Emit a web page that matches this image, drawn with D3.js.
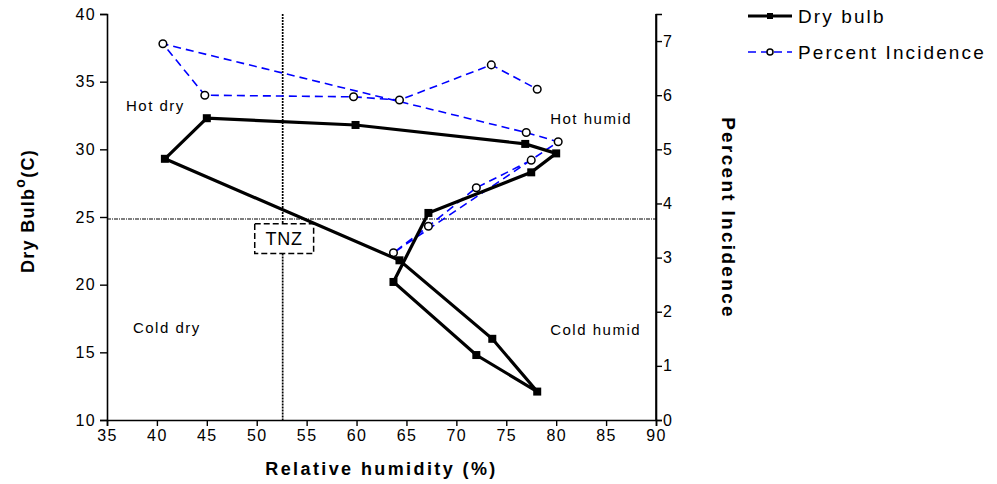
<!DOCTYPE html>
<html>
<head>
<meta charset="utf-8">
<script src="https://cdn.jsdelivr.net/npm/d3@7/dist/d3.min.js"></script>
<style>
    body{ margin:0; background:#fff; }
    #chart{ width:997px; height:484px; }
    text{ font-family:"Liberation Sans", Arial, sans-serif; fill:#000; }
</style>
</head>
<body>
<div id="chart"></div>
<script>
// dry bulb loop, in drawing order (RH %, temperature C)
var dryRH   = [40.8, 45.0, 59.9, 76.9, 80.0, 77.5, 67.2, 63.7, 72.0, 78.1, 73.6, 64.3, 40.8];
var dryTemp = [29.3, 32.3, 31.8, 30.4, 29.7, 28.3, 25.3, 20.2, 14.8, 12.1, 16.0, 21.8, 29.3];

// percent incidence, in drawing order (RH %, percent)
var incRH  = [77.5, 72.0, 67.2, 63.7, 80.2, 77.0, 40.6, 44.8, 59.7, 64.3, 73.5, 78.1];
var incPct = [4.80, 4.29, 3.58, 3.09, 5.14, 5.31, 6.95, 6.00, 5.97, 5.91, 6.56, 6.11];

var xTicks = [35, 40, 45, 50, 55, 60, 65, 70, 75, 80, 85, 90];
var yTicks = [10, 15, 20, 25, 30, 35, 40];
var y2Ticks = [0, 1, 2, 3, 4, 5, 6, 7];

var tnzRH = 52.6, tnzTemp = 24.85;
var tnzBoxRH = [49.8, 55.7], tnzBoxTemp = [22.3, 24.5];

var regionNames = ["Hot dry", "Hot humid", "Cold dry", "Cold humid"];
var regionRH    = [36.9, 79.4, 37.6, 79.4];
var regionTemp  = [32.8, 31.9, 16.4, 16.3];

var legendNames = ["Dry bulb", "Percent Incidence"];

var W = 997, H = 484,
    plotL = 107, plotT = 14, plotR = 656, plotB = 420;

var svg = d3.select("#chart").append("svg")
    .attr("width", W)
    .attr("height", H);

var x = d3.scaleLinear().domain([35, 90]).range([plotL, plotR]),
    y = d3.scaleLinear().domain([10, 40]).range([plotB, plotT]),
    y2 = d3.scaleLinear().domain([0, 7.5]).range([plotB, plotT]);

//axes
function styleAxis(g){
    g.attr("font-size", null).attr("font-family", null);
    g.selectAll("path.domain").attr("stroke", "#000").attr("stroke-width", 1.6);
    g.selectAll(".tick line").attr("stroke", "#000").attr("stroke-width", 1.4);
    g.selectAll(".tick text").style("font-size", "16px").style("letter-spacing", "1.4px");
}

svg.append("g")
    .attr("transform", "translate(0," + plotB + ")")
    .call(d3.axisBottom(x).tickValues(xTicks).tickSizeOuter(0).tickSize(6).tickPadding(4))
    .call(styleAxis);

svg.append("g")
    .attr("transform", "translate(" + plotL + ",0)")
    .call(d3.axisLeft(y).tickValues(yTicks).tickSizeOuter(0).tickSize(7).tickPadding(4))
    .call(styleAxis);

svg.append("g")
    .attr("transform", "translate(" + plotR + ",0)")
    .call(d3.axisRight(y2).tickValues(y2Ticks).tickSizeOuter(0).tickSize(6).tickPadding(1))
    .call(styleAxis);

// the right axis keeps going up to the top of the frame
svg.append("line")
    .attr("x1", plotR).attr("x2", plotR)
    .attr("y1", plotT).attr("y2", plotB)
    .attr("stroke", "#000").attr("stroke-width", 1.6);

// axis titles
svg.append("text")
    .attr("x", (plotL + plotR) / 2)
    .attr("y", 475)
    .attr("text-anchor", "middle")
    .style("font-size", "18px").style("font-weight", "bold").style("letter-spacing", "2.4px")
    .text("Relative humidity (%)");

var yt = svg.append("text")
    .attr("transform", "translate(34,211) rotate(-90)")
    .attr("text-anchor", "middle")
    .style("font-size", "18px").style("font-weight", "bold").style("letter-spacing", "1.3px");
yt.append("tspan").text("Dry Bulb");
yt.append("tspan").attr("dy", -9).style("font-size", "14px").text("o");
yt.append("tspan").attr("dy", 9).text("(C)");

svg.append("text")
    .attr("transform", "translate(722,218) rotate(90)")
    .attr("text-anchor", "middle")
    .style("font-size", "19px").style("font-weight", "bold").style("letter-spacing", "2.3px")
    .text("Percent Incidence");

// thermoneutral zone guides
svg.append("line")
    .attr("x1", plotL).attr("x2", plotR)
    .attr("y1", y(tnzTemp)).attr("y2", y(tnzTemp))
    .attr("stroke", "#000").attr("stroke-width", 1.1)
    .attr("stroke-dasharray", "4,1,1,1");

svg.append("line")
    .attr("x1", x(tnzRH)).attr("x2", x(tnzRH))
    .attr("y1", plotT).attr("y2", y(tnzBoxTemp[1]))
    .attr("stroke", "#000").attr("stroke-width", 1.7)
    .attr("stroke-dasharray", "2,1");

svg.append("line")
    .attr("x1", x(tnzRH)).attr("x2", x(tnzRH))
    .attr("y1", y(tnzBoxTemp[0])).attr("y2", plotB)
    .attr("stroke", "#000").attr("stroke-width", 1.7)
    .attr("stroke-dasharray", "2,1");

svg.append("rect")
    .attr("x", x(tnzBoxRH[0]))
    .attr("y", y(tnzBoxTemp[1]))
    .attr("width", x(tnzBoxRH[1]) - x(tnzBoxRH[0]))
    .attr("height", y(tnzBoxTemp[0]) - y(tnzBoxTemp[1]))
    .attr("fill", "#fff")
    .attr("stroke", "#000").attr("stroke-width", 1.5)
    .attr("stroke-dasharray", "6,3");

svg.append("text")
    .attr("x", x(d3.mean(tnzBoxRH)))
    .attr("y", y(d3.mean(tnzBoxTemp)) + 6)
    .attr("text-anchor", "middle")
    .style("font-size", "18px").style("letter-spacing", "0.8px")
    .text("TNZ");

// region labels
svg.selectAll("text.region")
    .data(regionNames)
.enter().append("text")
    .attr("class", "region")
    .attr("x", function(d, i){ return x(regionRH[i]); })
    .attr("y", function(d, i){ return y(regionTemp[i]); })
    .style("font-size", "15px").style("letter-spacing", "1.5px")
    .text(function(d){ return d; });

// percent incidence series
var incData = incRH.map(function(r, i){ return [r, incPct[i]]; });
svg.append("path")
    .datum(incData)
    .attr("fill", "none")
    .attr("stroke", "#0000ff").attr("stroke-width", 1.6)
    .attr("stroke-dasharray", "8,5")
    .attr("d", d3.line().x(function(d){ return x(d[0]); }).y(function(d){ return y2(d[1]); }));

svg.selectAll("circle.inc")
    .data(incData)
.enter().append("circle")
    .attr("class", "inc")
    .attr("cx", function(d){ return x(d[0]); })
    .attr("cy", function(d){ return y2(d[1]); })
    .attr("r", 3.8)
    .attr("fill", "#fff")
    .attr("stroke", "#000").attr("stroke-width", 1.5);

// dry bulb series
var dryData = dryRH.map(function(r, i){ return [r, dryTemp[i]]; });
svg.append("path")
    .datum(dryData)
    .attr("fill", "none")
    .attr("stroke", "#000").attr("stroke-width", 3.2)
    .attr("stroke-linejoin", "miter")
    .attr("d", d3.line().x(function(d){ return x(d[0]); }).y(function(d){ return y(d[1]); }));

svg.selectAll("rect.dry")
    .data(dryData.slice(0, -1))
.enter().append("rect")
    .attr("class", "dry")
    .attr("x", function(d){ return x(d[0]) - 4; })
    .attr("y", function(d){ return y(d[1]) - 4; })
    .attr("width", 8).attr("height", 8)
    .attr("fill", "#000");

// legend
var lg = svg.append("g").attr("transform", "translate(748,0)");
lg.append("line").attr("x1", 0).attr("x2", 44).attr("y1", 16).attr("y2", 16)
    .attr("stroke", "#000").attr("stroke-width", 3);
lg.append("rect").attr("x", 19).attr("y", 13).attr("width", 6).attr("height", 6).attr("fill", "#000");
lg.append("line").attr("x1", 0).attr("x2", 44).attr("y1", 52).attr("y2", 52)
    .attr("stroke", "#0000ff").attr("stroke-width", 1.5).attr("stroke-dasharray", "8,5");
lg.append("circle").attr("cx", 22).attr("cy", 52).attr("r", 3)
    .attr("fill", "#fff").attr("stroke", "#000").attr("stroke-width", 1.5);
lg.selectAll("text")
    .data(legendNames)
.enter().append("text")
    .attr("x", 50)
    .attr("y", function(d, i){ return 23 + i * 36; })
    .style("font-size", "19px").style("letter-spacing", "2.1px")
    .text(function(d){ return d; });
</script>
</body>
</html>
